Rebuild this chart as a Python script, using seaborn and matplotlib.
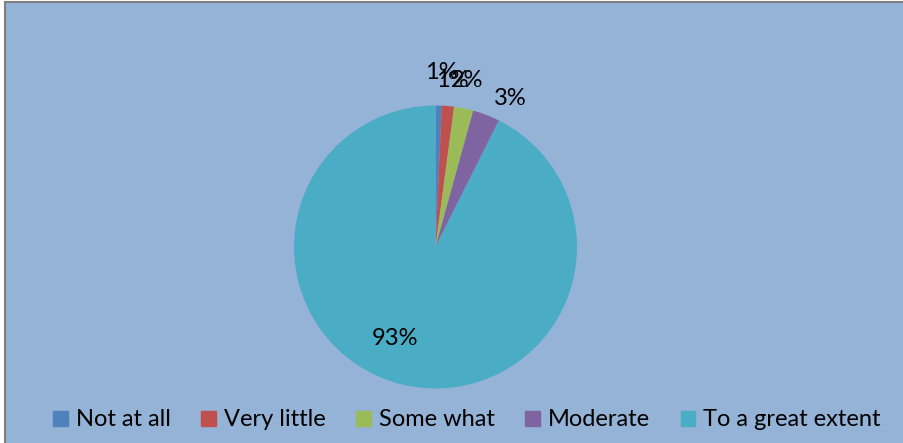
import numpy as np
import matplotlib
matplotlib.use('Agg')
import matplotlib.pyplot as plt
import seaborn as sns
from matplotlib.patches import Rectangle

# --- dados ---
categorias = ['Not at all', 'Very little', 'Some what', 'Moderate', 'To a great extent']
valores = [0.7, 1.4, 2.2, 3.1, 92.6]
cores = ['#4F81BD', '#C0504D', '#9BBB59', '#8064A2', '#4BACC6']

# posicao dos rotulos (raio relativo e desvio angular em graus)
raio_rotulo = [1.234, 1.18, 1.195, 1.175, 0.711]
desvio_rotulo = [0.7, 0.7, -0.6, 5.5, 10.6]

sns.set_theme(style='white')
plt.rcParams['font.family'] = ['Lato', 'DejaVu Sans']

fundo = '#95B3D7'
W, H = 904, 443
fig = plt.figure(figsize=(W / 100, H / 100), dpi=100)
fig.patch.set_facecolor('white')
# area do grafico com borda cinza
fig.patches.append(Rectangle((5 / W, -0.02), 1.05, 1.02 - 2 / H,
                             transform=fig.transFigure, facecolor=fundo,
                             edgecolor='#7F7F7F', linewidth=1.5, zorder=-5))

# pizza centrada em (435.5, 247) px, raio 141.5 px
cx, cy, r = 435.5, H - 247, 141.5
ax = fig.add_axes([(cx - r) / W, (cy - r) / H, 2 * r / W, 2 * r / H])
ax.set_facecolor('none')

paleta = sns.color_palette(cores)
cunhas, _ = ax.pie(valores, colors=paleta, startangle=90, counterclock=False,
                   radius=1, wedgeprops=dict(linewidth=0))
ax.set_xlim(-1, 1)
ax.set_ylim(-1, 1)
ax.set_aspect('equal')
ax.axis('off')

for w, v, rr, dv in zip(cunhas, valores, raio_rotulo, desvio_rotulo):
    ang = np.deg2rad((w.theta1 + w.theta2) / 2 - dv)
    ax.text(rr * np.cos(ang), rr * np.sin(ang), f'{round(v):.0f}%',
            ha='center', va='center', fontsize=17, color='black', clip_on=False)

handles = [Rectangle((0, 0), 1, 1, color=c) for c in paleta]
fig.legend(handles, categorias, loc='center', bbox_to_anchor=(467 / W, 1 - 420 / H),
           ncol=5, frameon=False, fontsize=17, handlelength=0.62, handleheight=0.62,
           handletextpad=0.33, columnspacing=1.3, labelcolor='black')

plt.savefig('out.png', dpi=100, facecolor=fig.get_facecolor())
